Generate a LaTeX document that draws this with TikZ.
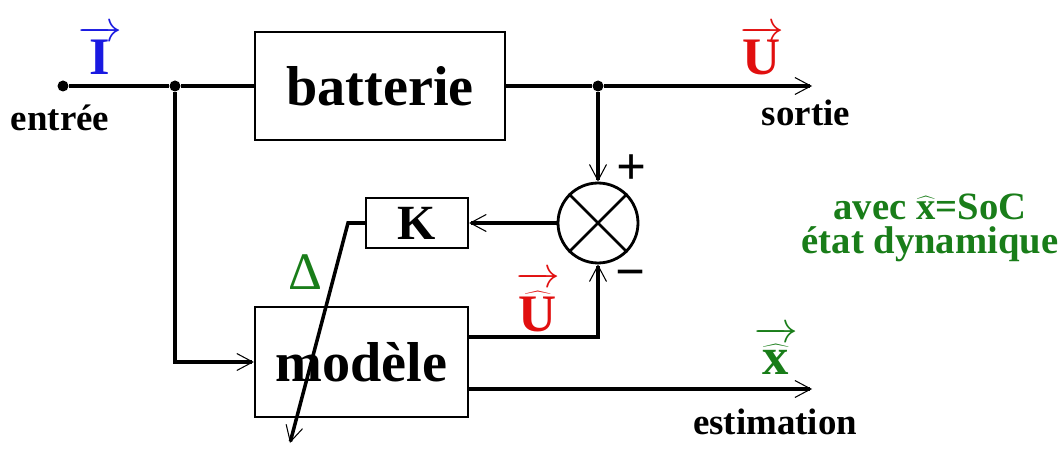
\documentclass[tikz,border=0pt]{standalone}
\usepackage{fontspec}
\setmainfont{Liberation Serif}
\usepackage{tikz}
\usetikzlibrary{arrows.meta, positioning, calc}
\definecolor{bleuI}{RGB}{25,25,225}
\definecolor{rougeU}{RGB}{225,15,15}
\definecolor{vertX}{RGB}{25,125,25}
\tikzset{
  bloc/.style={rectangle, draw=black, fill=white, line width=1.3pt,
    font=\fontsize{32}{34}\selectfont\bfseries, inner sep=0pt},
  sommateur/.style={circle, draw=black, fill=white, line width=1.6pt,
    minimum size=1.6cm, inner sep=0pt},
  fil/.style={line width=2pt, color=black},
  fleche/.style={fil, -{Straight Barb[length=0.32cm, width=0.34cm, line width=0.6pt]}},
  point/.style={circle, fill=black, inner sep=0pt, minimum size=0.22cm},
  etiq/.style={font=\fontsize{21}{23}\selectfont\bfseries},
  vecteur/.style={font=\fontsize{30}{32}\selectfont\bfseries}
}
\begin{document}
\begin{tikzpicture}[x=0.02cm, y=-0.02cm]
  \useasboundingbox (0,0) rectangle (1059,449);

  % blocs
  \node[bloc, minimum width=5cm, minimum height=2.16cm] (bat) at (380,86) {batterie};
  \node[bloc, minimum width=4.26cm, minimum height=2.2cm] (mod) at (361.5,362) {modèle};
  \node[bloc, minimum width=2.04cm, minimum height=1cm,
    font=\fontsize{28}{30}\selectfont\bfseries] (K) at (417,223) {K};
  \node[sommateur] (som) at (598,223) {};
  \draw[line width=1.6pt] (som.45) -- (som.225) (som.135) -- (som.315);

  % points et coordonnees
  \node[point] (e) at (63,86) {};
  \node[point] (j1) at (175,86) {};
  \node[point] (j2) at (598,86) {};
  \coordinate (s) at (812,86);
  \coordinate (mU) at (468,337);
  \coordinate (mX) at (468,389);
  \coordinate (est) at (812,389);
  \coordinate (kc) at (348,223);
  \coordinate (kf) at (290,443);

  % liaisons
  \draw[fil] (e) -- (j1) -- (bat.west);
  \draw[fil] (bat.east) -- (j2);
  \draw[fleche] (j2) -- (s);
  \draw[fleche] (j2) -- (som.north);
  \draw[fleche] (j1) |- (mod.west);
  \draw[fleche] (mU) -| (som.south);
  \draw[fleche] (som.west) -- (K.east);
  \draw[fleche] (mX) -- (est);
  \draw[fleche] (K.west) -- (kc) -- (kf);

  % etiquettes
  \node[vecteur, text=bleuI] (lI) at (100,50) {$\overrightarrow{\textbf{I}}$};
  \node[etiq] (lE) at (60,118) {entrée};
  \node[vecteur, text=rougeU] (lU) at (762,50) {$\overrightarrow{\textbf{U}}$};
  \node[etiq] (lS) at (806,113) {sortie};
  \node[vecteur, text=rougeU] (lUh) at (538,302)
    {$\overrightarrow{\widehat{\textbf{U}}\rule{0pt}{0.86em}}$};
  \node[vecteur, text=vertX] (lX) at (776,350)
    {$\overrightarrow{\widehat{\textbf{x}}\rule{0pt}{0.64em}}$};
  \node[etiq] (lEst) at (775,422) {estimation};
  \node[font=\fontsize{30}{32}\selectfont\bfseries] (plus) at (632,170) {+};
  \node[font=\fontsize{30}{32}\selectfont\bfseries] (moins) at (631,280) {−};
  \node[font=\fontsize{30}{32}\selectfont, text=vertX] (delta) at (305,272) {Δ};
  \node[font=\fontsize{22}{19}\selectfont\bfseries, text=vertX, align=center]
    (note) at (930,228) {avec $\widehat{\textbf{x}}$=SoC\\état dynamique};
\end{tikzpicture}
\end{document}
